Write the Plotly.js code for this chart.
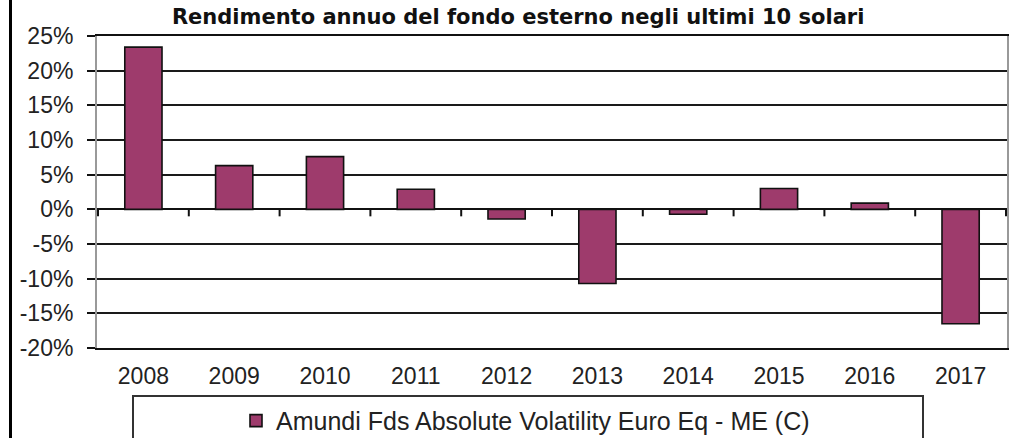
<!DOCTYPE html>
<html>
<head>
<meta charset="utf-8">
<script src="https://cdn.plot.ly/plotly-3.0.1.min.js"></script>
<style>html,body{margin:0;padding:0;background:#fff;}#chart{width:1018px;height:438px;}</style>
</head>
<body>
<div id="chart"></div>
<script>
const years = ["2008","2009","2010","2011","2012","2013","2014","2015","2016","2017"];
const returns = [23.4, 6.3, 7.6, 2.9, -1.4, -10.7, -0.7, 3.0, 0.9, -16.5];
const seriesName = "Amundi Fds Absolute Volatility Euro Eq - ME (C)";
const chartTitle = "Rendimento annuo del fondo esterno negli ultimi 10 solari";
const yTicks = [-20, -15, -10, -5, 0, 5, 10, 15, 20, 25];

const trace = {
  type: "bar",
  x: years,
  y: returns,
  name: seriesName,
  marker: {color: "#9E3B6C", line: {color: "#111", width: 1.6}},
  showlegend: true,
  hoverinfo: "x+y"
};

// boundary tick marks on the zero line (between categories)
const shapes = [];
for (let i = 0; i <= years.length; i++) {
  shapes.push({type: "line", xref: "x", yref: "y", ysizemode: "pixel", yanchor: 0,
    x0: i - 0.5, x1: i - 0.5, y0: 0, y1: -7, line: {color: "#111", width: 2}});
}
// legend box
shapes.push({type: "rect", xref: "paper", yref: "paper",
  x0: (133 - 97) / 910, x1: (923 - 97) / 910, y0: -0.5, y1: (348 - 396) / 312,
  line: {color: "#333", width: 2}, fillcolor: "rgba(0,0,0,0)"});
// left frame line
shapes.push({type: "line", xref: "paper", yref: "paper",
  x0: (10.5 - 97) / 910, x1: (10.5 - 97) / 910, y0: -0.5, y1: 1.5,
  line: {color: "#000", width: 3}});

const layout = {
  width: 1018, height: 438,
  margin: {l: 97, r: 11, t: 36, b: 90, autoexpand: false},
  paper_bgcolor: "#fff", plot_bgcolor: "#fff",
  title: {text: "<b>" + chartTitle + "</b>", x: 0.509, xanchor: "center", y: 0.962, yanchor: "middle",
    font: {family: "DejaVu Sans", size: 21, color: "#111"}},
  bargap: 0.59,
  xaxis: {type: "category", showgrid: false, zeroline: false, automargin: false,
    showline: true, mirror: true, linecolor: "#111", linewidth: 2,
    ticks: "", ticklabelstandoff: 6,
    tickfont: {family: "Liberation Sans, Arial", size: 23, color: "#222"}},
  yaxis: {range: [-20, 25], tickvals: yTicks, ticktext: yTicks.map(v => v + "%"), automargin: false,
    showgrid: true, gridcolor: "#1a1a1a", gridwidth: 2,
    zeroline: true, zerolinecolor: "#111", zerolinewidth: 2,
    showline: true, mirror: true, linecolor: "#999", linewidth: 2,
    ticks: "outside", ticklen: 8, tickwidth: 2, tickcolor: "#111",
    ticklabelstandoff: 9,
    tickfont: {family: "Liberation Sans, Arial", size: 23, color: "#222"}},
  showlegend: true,
  legend: {x: (236 - 97) / 910, xanchor: "left", y: -0.16, yanchor: "top", orientation: "h",
    bgcolor: "rgba(0,0,0,0)", borderwidth: 0,
    font: {family: "Liberation Sans, Arial", size: 25, color: "#222"}},
  shapes: shapes
};

Plotly.newPlot("chart", [trace], layout, {displayModeBar: false, staticPlot: true});
</script>
</body>
</html>
